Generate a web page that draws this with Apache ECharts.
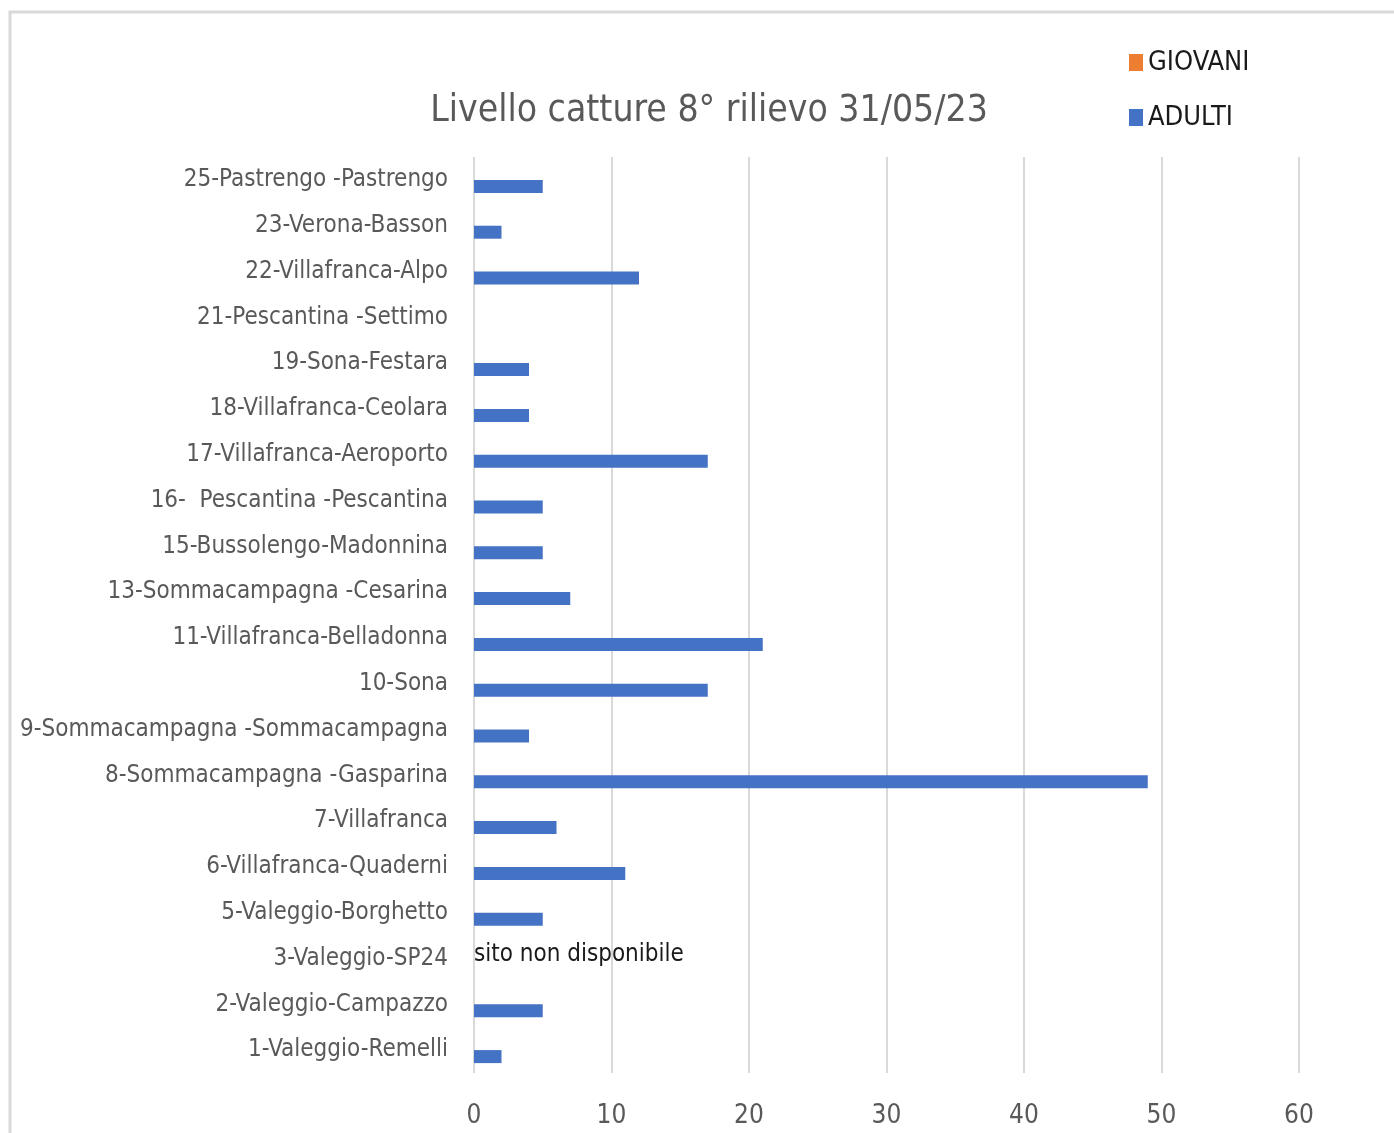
<!DOCTYPE html>
<html>
<head>
    <meta charset="utf-8">
    <title>Livello catture</title>
    <style type="text/css">
        html, body { margin: 0; padding: 0; background: #fff; }
        #main { width: 1394px; height: 1133px; }
    </style>
    <script src="https://cdn.jsdelivr.net/npm/echarts@6/dist/echarts.min.js"></script>
</head>
<body>
<div id="main"></div>
<script type="text/javascript">
// categorie, dal basso verso l'alto
var sites = [
    '1-Valeggio-Remelli', '2-Valeggio-Campazzo', '3-Valeggio-SP24', '5-Valeggio-Borghetto',
    '6-Villafranca-Quaderni', '7-Villafranca', '8-Sommacampagna -Gasparina',
    '9-Sommacampagna -Sommacampagna', '10-Sona', '11-Villafranca-Belladonna',
    '13-Sommacampagna -Cesarina', '15-Bussolengo-Madonnina', '16-  Pescantina -Pescantina',
    '17-Villafranca-Aeroporto', '18-Villafranca-Ceolara', '19-Sona-Festara',
    '21-Pescantina -Settimo', '22-Villafranca-Alpo', '23-Verona-Basson', '25-Pastrengo -Pastrengo'
];
var giovani = [0, 0, null, 0, 0, 0, 0, 0, 0, 0, 0, 0, 0, 0, 0, 0, 0, 0, 0, 0];
var adulti  = [2, 5, null, 5, 11, 6, 49, 4, 17, 21, 7, 5, 5, 17, 4, 4, 0, 12, 2, 5];
// note per i siti senza dato
var notes = ['', '', 'sito non disponibile', '', '', '', '', '', '', '', '', '', '', '', '', '', '', '', '', ''];
var xTicks = [0, 10, 20, 30, 40, 50, 60];

var FONT = "'Liberation Sans Narrow', 'DejaVu Sans Condensed', sans-serif";

var myChart = echarts.init(document.getElementById('main'));

var giovaniData = giovani.map(function (v, i) {
    var item = { value: v === null ? 0 : v };
    if (notes[i]) {
        item.label = {
            show: true,
            position: 'right',
            distance: 0,
            offset: [0, 3],
            formatter: notes[i],
            color: '#1a1a1a',
            fontSize: 24,
            fontFamily: FONT
        };
    }
    return item;
});

var option = {
    animation: false,
    color: ['#ED7D31', '#4472C4'],
    title: {
        text: 'Livello catture 8° rilievo 31/05/23',
        left: 704,
        textAlign: 'center',
        top: 88,
        textStyle: { fontSize: 37, fontWeight: 'normal', color: '#595959', fontFamily: FONT }
    },
    legend: {
        orient: 'vertical',
        left: 1124,
        top: 44,
        itemWidth: 14,
        itemHeight: 17,
        itemGap: 28,
        icon: 'rect',
        data: ['GIOVANI', 'ADULTI'],
        textStyle: { fontSize: 27, color: '#1a1a1a', fontFamily: FONT, padding: [0, 0, 0, 0] }
    },
    grid: {
        left: 474,
        right: 95,
        top: 157,
        bottom: 60,
        outerBoundsMode: 'none'
    },
    xAxis: {
        type: 'value',
        min: 0,
        max: 60,
        interval: 10,
        axisLine: { show: false },
        axisTick: { show: false },
        splitLine: { lineStyle: { color: '#d9d9d9', width: 2 } },
        axisLabel: {
            margin: 30,
            fontSize: 26,
            color: '#595959',
            fontFamily: FONT,
            formatter: function (v) { return xTicks.indexOf(v) >= 0 ? String(v) : ''; }
        }
    },
    yAxis: {
        type: 'category',
        data: sites,
        axisLine: { show: false },
        axisTick: { show: false },
        axisLabel: { margin: 26, fontSize: 24, color: '#595959', fontFamily: FONT, padding: [4, 0, 0, 0] }
    },
    graphic: [{
        type: 'rect',
        shape: { x: 10, y: 12, width: 1500, height: 1200 },
        style: { fill: 'none', stroke: '#d9d9d9', lineWidth: 3 },
        silent: true
    }],
    series: [
        {
            name: 'GIOVANI',
            type: 'bar',
            barWidth: 13,
            barGap: '0%',
            data: giovaniData
        },
        {
            name: 'ADULTI',
            type: 'bar',
            barWidth: 13,
            barGap: '0%',
            data: adulti
        }
    ]
};

myChart.setOption(option);
</script>
</body>
</html>
